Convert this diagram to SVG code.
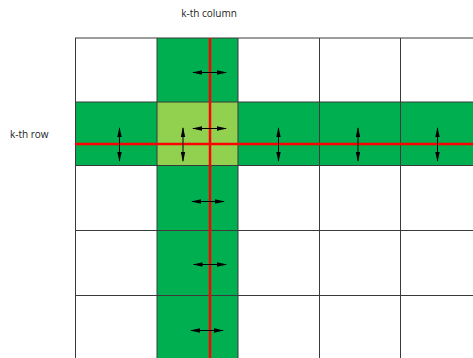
<svg xmlns="http://www.w3.org/2000/svg" width="473" height="358" viewBox="0 0 473 358">
<style>
.cell{fill:#fff;stroke:#3a3a3a;stroke-width:1}
.g{fill:#00B050}
.lg{fill:#92D050}
.red{stroke:#FF0000;stroke-width:2.5;fill:none}
.arr{stroke:#000;stroke-width:1;fill:none;marker-start:url(#ah);marker-end:url(#ah)}
.t{font-family:"Open Sans","Liberation Sans",sans-serif;font-size:10px;fill:#222}
</style>
<defs>
<marker id="ah" viewBox="0 0 10 6" refX="9" refY="3" markerWidth="10" markerHeight="6" markerUnits="userSpaceOnUse" orient="auto-start-reverse">
<path d="M0,0.8 L10,3 L0,5.2 Z" fill="#000"/>
</marker>
</defs>
<rect width="473" height="358" fill="#fff"/>
<g id="cells">
<rect class="g" x="157" y="38" width="81" height="320"/>
<rect class="g" x="75" y="102" width="398" height="63.5"/>
<rect class="lg" x="157" y="102" width="81" height="63.5"/>
</g>
<g id="grid" stroke="#3a3a3a" stroke-width="1" fill="none">
<path d="M75.5,38 V358 M157,38 V358 M238,38 V358 M319.5,38 V358 M400.5,38 V358"/>
<path d="M75,38 H473 M75,102 H473 M75,165.5 H473 M75,230.5 H473 M75,295.5 H473"/>
</g>
<g id="redlines">
<path class="red" d="M210,38 V358"/>
<path class="red" d="M75,144 H473"/>
</g>
<g id="connectors">
<path class="arr" d="M193,72.5 H226"/>
<path class="arr" d="M193,128.5 H226"/>
<path class="arr" d="M192,201.5 H224"/>
<path class="arr" d="M193.5,264.5 H226"/>
<path class="arr" d="M191,330.5 H223"/>
<path class="arr" d="M119.5,128 V161"/>
<path class="arr" d="M183,128 V161"/>
<path class="arr" d="M278.5,128 V161"/>
<path class="arr" d="M358,128 V161"/>
<path class="arr" d="M437.5,128 V161"/>
</g>
<g id="labels">
<text class="t" x="209" y="17" text-anchor="middle">k-th column</text>
<text class="t" x="10" y="137.5">k-th row</text>
</g>
</svg>
